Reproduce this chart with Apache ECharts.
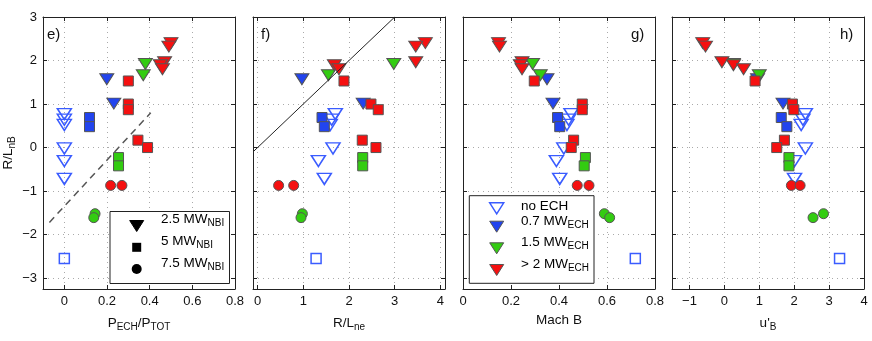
<!DOCTYPE html>
<html>
<head>
<meta charset="utf-8">
<script src="https://cdn.jsdelivr.net/npm/echarts@6/dist/echarts.min.js"></script>
<style>
  html, body { margin: 0; padding: 0; background: #fff; }
  #chart { width: 872px; height: 341px; }
</style>
</head>
<body>
<div id="chart"></div>
<script>
// R/L_nB (shared y) and the four x quantities for every group of shots
// panels: e) P_ECH/P_TOT, f) R/L_ne, g) Mach B, h) u'_B

// no ECH, 2.5 MW NBI (hollow triangles)
const rlnbNoEchTri = [0.77, 0.64, 0.52, -0.02, -0.31, -0.72];
const pechNoEchTri = [0, 0, 0, 0, 0, 0];
const rlneNoEchTri = [1.70, 1.62, 1.59, 1.65, 1.33, 1.46];
const machNoEchTri = [0.45, 0.44, 0.433, 0.42, 0.389, 0.403];
const uNoEchTri = [2.32, 2.25, 2.20, 2.32, 2.01, 2.01];

// no ECH, 5 MW NBI (hollow square)
const rlnbNoEchSq = [-2.55];
const pechNoEchSq = [0];
const rlneNoEchSq = [1.28];
const machNoEchSq = [0.718];
const uNoEchSq = [3.30];

// 0.7 MW ECH
const rlnbBlueTri = [1.57, 1.01];
const pechBlueTri = [0.199, 0.232];
const rlneBlueTri = [0.97, 2.31];
const machBlueTri = [0.35, 0.375];
const uBlueTri = [0.95, 1.68];

const rlnbBlueSq = [0.69, 0.48];
const pechBlueSq = [0.118, 0.118];
const rlneBlueSq = [1.41, 1.46];
const machBlueSq = [0.394, 0.403];
const uBlueSq = [1.63, 1.79];

// 1.5 MW ECH
const rlnbGreenTri = [1.92, 1.66];
const pechGreenTri = [0.38, 0.37];
const rlneGreenTri = [2.98, 1.55];
const machGreenTri = [0.29, 0.322];
const uGreenTri = [0.26, 1.00];

const rlnbGreenSq = [-0.23, -0.42];
const pechGreenSq = [0.254, 0.254];
const rlneGreenSq = [2.30, 2.30];
const machGreenSq = [0.51, 0.505];
const uGreenSq = [1.85, 1.85];

const rlnbGreenCirc = [-1.52, -1.61];
const pechGreenCirc = [0.144, 0.138];
const rlneGreenCirc = [0.98, 0.95];
const machGreenCirc = [0.589, 0.611];
const uGreenCirc = [2.84, 2.54];

// > 2 MW ECH
const rlnbRedTri = [2.40, 2.32, 1.96, 1.89, 1.80];
const pechRedTri = [0.50, 0.49, 0.47, 0.45, 0.46];
const rlneRedTri = [3.67, 3.46, 3.46, 1.68, 1.78];
const machRedTri = [0.148, 0.152, 0.246, 0.239, 0.246];
const uRedTri = [-0.62, -0.54, -0.07, 0.26, 0.55];

const rlnbRedSq = [1.53, 1.00, 0.87, 0.17, 0.00];
const pechRedSq = [0.30, 0.30, 0.30, 0.345, 0.39];
const rlneRedSq = [1.89, 2.48, 2.64, 2.29, 2.59];
const machRedSq = [0.297, 0.497, 0.497, 0.461, 0.451];
const uRedSq = [0.88, 1.95, 1.99, 1.72, 1.50];

const rlnbRedCirc = [-0.87, -0.87];
const pechRedCirc = [0.217, 0.27];
const rlneRedCirc = [0.46, 0.79];
const machRedCirc = [0.476, 0.525];
const uRedCirc = [1.92, 2.17];

// reference lines
const fitLineX = [-0.07, 0.405];   // dashed, panel e
const fitLineY = [-1.72, 0.80];
const unityLineX = [-0.1, 3];      // y = x, panel f
const unityLineY = [-0.1, 3];

// axes
const panelTags = ['e)', 'f)', 'g)', 'h)'];
const xMins = [-0.1, -0.1, 0, -1.5];
const xMaxs = [0.8, 4.1, 0.8, 4];
const xSteps = [0.2, 1, 0.2, 1];
const yMin = -3.25, yMax = 3, yStep = 1;

const FONT = 'Liberation Sans, Arial, Helvetica, sans-serif';
const BLUE_HOLLOW = '#3a5cff';
const BLUE = '#2244ee';
const GREEN = '#33cc11';
const RED = '#f51010';
const EDGE = '#555';

const gridLefts = [43, 253, 463, 672];
const gridWidth = 192;

const rich = {
  a: { fontFamily: FONT, fontSize: 13.5, color: '#111', lineHeight: 16, verticalAlign: 'top' },
  s: { fontFamily: FONT, fontSize: 10, color: '#111', lineHeight: 12, verticalAlign: 'bottom', padding: [9, 0, 0, 0] }
};
const xNames = ['{a|P}{s|ECH}{a|/P}{s|TOT}', '{a|R/L}{s|ne}', '{a|Mach B}', "{a|u'}{s|B}"];

function tickFmt(step) {
  return function (v) {
    const k = v / step;
    if (Math.abs(k - Math.round(k)) > 1e-6) return '';
    return String(Number(v.toFixed(3))).replace('-', '\u2212');
  };
}

const grids = [], xAxes = [], yAxes = [];
for (let p = 0; p < 4; p++) {
  grids.push({ left: gridLefts[p], width: gridWidth, top: 17, height: 272, outerBoundsMode: 'none', containLabel: false });
}
// bottom / left axes with labels
for (let p = 0; p < 4; p++) {
  xAxes.push({
    type: 'value', gridIndex: p, position: 'bottom',
    min: xMins[p], max: xMaxs[p], minInterval: xSteps[p], maxInterval: xSteps[p],
    name: xNames[p], nameLocation: 'middle', nameGap: 18,
    nameTextStyle: { rich: rich },
    axisLine: { show: true, onZero: false, lineStyle: { color: '#222', width: 1 } },
    axisTick: { show: true, inside: true, length: 4, lineStyle: { color: '#222' } },
    axisLabel: { show: true, margin: 6, fontFamily: FONT, fontSize: 13, color: '#111',
      formatter: tickFmt(xSteps[p]), showMinLabel: xMins[p] % xSteps[p] === 0, showMaxLabel: true, hideOverlap: false },
    splitLine: { show: true, lineStyle: { color: '#aaa', type: [1, 4], width: 1 } }
  });
  yAxes.push({
    type: 'value', gridIndex: p, position: 'left',
    min: yMin, max: yMax, minInterval: yStep, maxInterval: yStep,
    name: p === 0 ? '{a|R/L}{s|nB}' : '', nameLocation: 'middle', nameGap: 26, nameRotate: 90,
    nameTextStyle: { rich: rich },
    axisLine: { show: true, onZero: false, lineStyle: { color: '#222', width: 1 } },
    axisTick: { show: true, inside: true, length: 4, lineStyle: { color: '#222' } },
    axisLabel: { show: p === 0, margin: 6, fontFamily: FONT, fontSize: 13, color: '#111',
      formatter: tickFmt(yStep), showMinLabel: false },
    splitLine: { show: true, lineStyle: { color: '#aaa', type: [1, 4], width: 1 } }
  });
}
// top / right mirror axes (frame + inner ticks)
for (let p = 0; p < 4; p++) {
  xAxes.push({
    type: 'value', gridIndex: p, position: 'top',
    min: xMins[p], max: xMaxs[p], minInterval: xSteps[p], maxInterval: xSteps[p],
    axisLine: { show: true, onZero: false, lineStyle: { color: '#222', width: 1 } },
    axisTick: { show: true, inside: true, length: 4, lineStyle: { color: '#222' } },
    axisLabel: { show: false }, splitLine: { show: false }
  });
  yAxes.push({
    type: 'value', gridIndex: p, position: 'right',
    min: yMin, max: yMax, minInterval: yStep, maxInterval: yStep,
    axisLine: { show: true, onZero: false, lineStyle: { color: '#222', width: 1 } },
    axisTick: { show: true, inside: true, length: 4, lineStyle: { color: '#222' } },
    axisLabel: { show: false }, splitLine: { show: false }
  });
}

const TRI = { symbol: 'triangle', symbolSize: [14, 11], symbolRotate: 180 };
const SQ = { symbol: 'rect', symbolSize: 10, symbolRotate: 0 };
const CIRC = { symbol: 'circle', symbolSize: 10, symbolRotate: 0 };

const groups = [
  { y: rlnbNoEchTri, xs: [pechNoEchTri, rlneNoEchTri, machNoEchTri, uNoEchTri], m: TRI, fill: 'none', edge: BLUE_HOLLOW, bw: 1.5 },
  { y: rlnbNoEchSq, xs: [pechNoEchSq, rlneNoEchSq, machNoEchSq, uNoEchSq], m: SQ, fill: 'none', edge: BLUE_HOLLOW, bw: 1.5 },
  { y: rlnbBlueTri, xs: [pechBlueTri, rlneBlueTri, machBlueTri, uBlueTri], m: TRI, fill: BLUE, edge: EDGE, bw: 1 },
  { y: rlnbBlueSq, xs: [pechBlueSq, rlneBlueSq, machBlueSq, uBlueSq], m: SQ, fill: BLUE, edge: EDGE, bw: 1 },
  { y: rlnbGreenTri, xs: [pechGreenTri, rlneGreenTri, machGreenTri, uGreenTri], m: TRI, fill: GREEN, edge: EDGE, bw: 1 },
  { y: rlnbGreenSq, xs: [pechGreenSq, rlneGreenSq, machGreenSq, uGreenSq], m: SQ, fill: GREEN, edge: EDGE, bw: 1 },
  { y: rlnbGreenCirc, xs: [pechGreenCirc, rlneGreenCirc, machGreenCirc, uGreenCirc], m: CIRC, fill: GREEN, edge: EDGE, bw: 1 },
  { y: rlnbRedTri, xs: [pechRedTri, rlneRedTri, machRedTri, uRedTri], m: TRI, fill: RED, edge: EDGE, bw: 1 },
  { y: rlnbRedSq, xs: [pechRedSq, rlneRedSq, machRedSq, uRedSq], m: SQ, fill: RED, edge: EDGE, bw: 1 },
  { y: rlnbRedCirc, xs: [pechRedCirc, rlneRedCirc, machRedCirc, uRedCirc], m: CIRC, fill: RED, edge: EDGE, bw: 1 }
];

const series = [];
series.push({
  type: 'line', xAxisIndex: 0, yAxisIndex: 0, symbol: 'none', silent: true,
  data: fitLineX.map((x, i) => [x, fitLineY[i]]),
  lineStyle: { color: '#555', width: 1.5, type: [7, 5] }
});
series.push({
  type: 'line', xAxisIndex: 1, yAxisIndex: 1, symbol: 'none', silent: true,
  data: unityLineX.map((x, i) => [x, unityLineY[i]]),
  lineStyle: { color: '#222', width: 1 }
});
for (let p = 0; p < 4; p++) {
  groups.forEach(g => {
    series.push({
      type: 'scatter', xAxisIndex: p, yAxisIndex: p,
      symbol: g.m.symbol, symbolSize: g.m.symbolSize, symbolRotate: g.m.symbolRotate,
      data: g.xs[p].map((x, i) => [x, g.y[i]]),
      itemStyle: { color: g.fill, borderColor: g.edge, borderWidth: g.bw, opacity: 1 }
    });
  });
}

// legends and panel tags drawn as graphics
function triDown(cx, cy, fill, stroke, lw) {
  return { type: 'polygon', shape: { points: [[cx - 7, cy - 5.5], [cx + 7, cy - 5.5], [cx, cy + 5.5]] },
    style: { fill: fill, stroke: stroke, lineWidth: lw } };
}
function legText(x, yTop, main, sub) {
  return { type: 'text', x: x, y: yTop,
    style: { text: sub ? '{a|' + main + '}{s|' + sub + '}' : '{a|' + main + '}', rich: rich, verticalAlign: 'top', align: 'left' } };
}

const graphic = [
  // legend NBI (panel e)
  { type: 'rect', shape: { x: 110, y: 211.5, width: 119.5, height: 72 }, style: { fill: '#fff', stroke: '#222', lineWidth: 1 }, z: 100 },
  Object.assign(triDown(136.7, 226, '#000', '#000', 1), { z: 101 }),
  { type: 'rect', shape: { x: 132.2, y: 242.8, width: 9, height: 9 }, style: { fill: '#000' }, z: 101 },
  { type: 'circle', shape: { cx: 136.7, cy: 269, r: 5 }, style: { fill: '#000' }, z: 101 },
  Object.assign(legText(161, 212, '2.5 MW', 'NBI'), { z: 101 }),
  Object.assign(legText(161, 234, '5 MW', 'NBI'), { z: 101 }),
  Object.assign(legText(161, 256, '7.5 MW', 'NBI'), { z: 101 }),
  // legend ECH (panel g)
  { type: 'rect', shape: { x: 469.3, y: 195.7, width: 124.7, height: 87.6 }, style: { fill: '#fff', stroke: '#222', lineWidth: 1 }, z: 100 },
  Object.assign(triDown(496.7, 208.3, 'none', BLUE_HOLLOW, 1.5), { z: 101 }),
  Object.assign(triDown(496.7, 226.7, BLUE, EDGE, 1), { z: 101 }),
  Object.assign(triDown(496.7, 248.3, GREEN, EDGE, 1), { z: 101 }),
  Object.assign(triDown(496.7, 270, RED, EDGE, 1), { z: 101 }),
  Object.assign(legText(521, 199, 'no ECH', null), { z: 101 }),
  Object.assign(legText(521, 214, '0.7 MW', 'ECH'), { z: 101 }),
  Object.assign(legText(521, 235.5, '1.5 MW', 'ECH'), { z: 101 }),
  Object.assign(legText(521, 257, '> 2 MW', 'ECH'), { z: 101 })
];
const tagPos = [[47, 27], [261, 27], [631, 27], [840, 27]];
panelTags.forEach((t, i) => {
  graphic.push({ type: 'text', x: tagPos[i][0], y: tagPos[i][1], z: 101,
    style: { text: t, fontFamily: FONT, fontSize: 15, fill: '#111', verticalAlign: 'top' } });
});

const chart = echarts.init(document.getElementById('chart'), null, { renderer: 'canvas' });
chart.setOption({
  animation: false,
  backgroundColor: '#fff',
  grid: grids,
  xAxis: xAxes,
  yAxis: yAxes,
  series: series,
  graphic: graphic
});
</script>
</body>
</html>
